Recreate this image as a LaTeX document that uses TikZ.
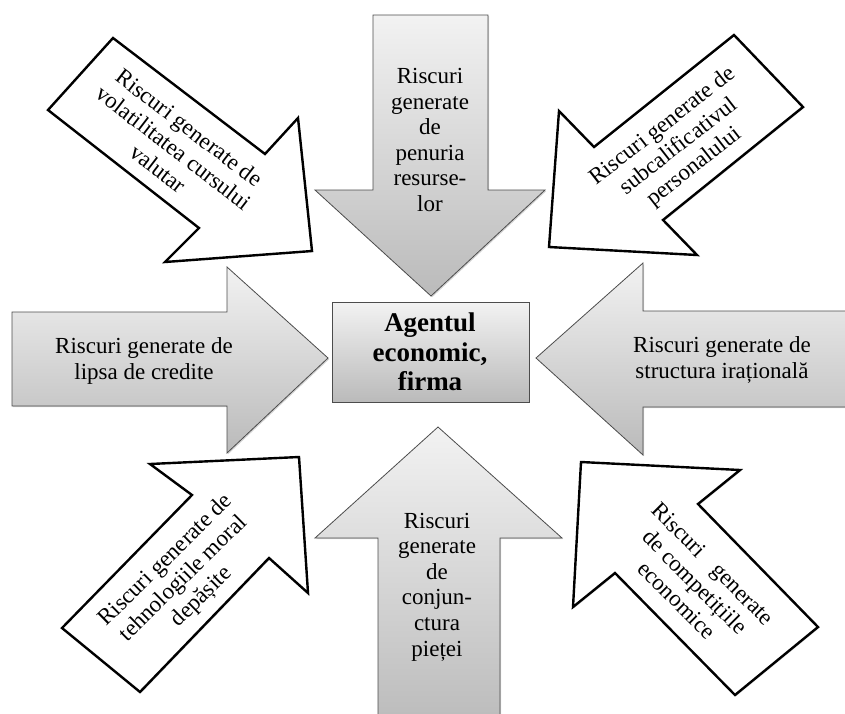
\documentclass[tikz,border=0pt]{standalone}
\usepackage{fontspec}
\setmainfont{Liberation Serif}
\usetikzlibrary{shadows}

\begin{document}
\begin{tikzpicture}[
    x=1pt, y=-1pt,
    gray shape/.style={draw=black!70, line width=0.8pt, top color=black!5, bottom color=black!27,
        drop shadow={shadow xshift=1.2pt, shadow yshift=-1.2pt, opacity=0.35}},
    white shape/.style={draw=black, line width=2.4pt, fill=white,
        drop shadow={shadow xshift=1.2pt, shadow yshift=-1.2pt, opacity=0.25}},
    risk label/.style={font=\fontsize{23}{25.6}\selectfont, align=center, inner sep=0pt},
    firm label/.style={font=\fontsize{27}{29.5}\selectfont\bfseries, align=center, inner sep=0pt}
]
    \useasboundingbox (0,0) rectangle (845,713);
    \clip (0,0) rectangle (845,713);

    % 斜向箭頭
    \draw[white shape] (113,38) -- (265,154) -- (298,118) -- (312,251) -- (165,262) -- (199,228) -- (48,110) -- cycle;
    \draw[white shape] (734,35) -- (803,107) -- (663,220) -- (697,255) -- (549,247) -- (559,111) -- (594,147) -- cycle;
    \draw[white shape] (299,457) -- (308,593) -- (269,558) -- (140,692) -- (62,628) -- (192,495) -- (150,464) -- cycle;
    \draw[white shape] (581,462) -- (740,470) -- (698,504) -- (818,627) -- (735,695) -- (615,573) -- (573,607) -- cycle;

    % 上下左右箭頭
    \draw[gray shape] (373,15) -- (488,15) -- (488,190) -- (545,190) -- (431,296) -- (315,190) -- (373,190) -- cycle;
    \draw[gray shape] (438,427) -- (562,538) -- (500,538) -- (500,730) -- (378,730) -- (378,538) -- (315,538) -- cycle;
    \draw[gray shape] (12,312) -- (227,312) -- (227,267) -- (328,358) -- (227,453) -- (227,406) -- (12,406) -- cycle;
    \draw[gray shape] (536,358) -- (643,263) -- (643,311) -- (860,311) -- (860,407) -- (643,407) -- (643,455) -- cycle;

    % 中央方框
    \draw[gray shape] (332,302) rectangle (529,402);
    \node[firm label] (firma) at (430,352) {Agentul\\economic,\\firma};

    % 文字
    \node[risk label] (r-n) at (430,140) {Riscuri\\generate\\de\\penuria\\resurse-\\lor};
    \node[risk label] (r-s) at (437,587) {Riscuri\\generate\\de\\conjun-\\ctura\\pieței};
    \node[risk label] (r-w) at (144,361) {Riscuri generate de\\lipsa de credite};
    \node[risk label] (r-e) at (722,360) {Riscuri generate de\\structura irațională};
    \node[risk label, rotate=-37.5] (r-nw) at (174,148) {Riscuri generate de\\volatilitatea cursului\\valutar};
    \node[risk label, rotate=38] (r-ne) at (679,147) {Riscuri generate de\\subcalificativul\\personalului};
    \node[risk label, rotate=44.5] (r-sw) at (184,579) {Riscuri generate de\\tehnologiile moral\\depășite};
    \node[risk label, rotate=-45] (r-se) at (695,582) {Riscuri\hspace{18pt}generate\\de competițiile\\economice};
\end{tikzpicture}
\end{document}
